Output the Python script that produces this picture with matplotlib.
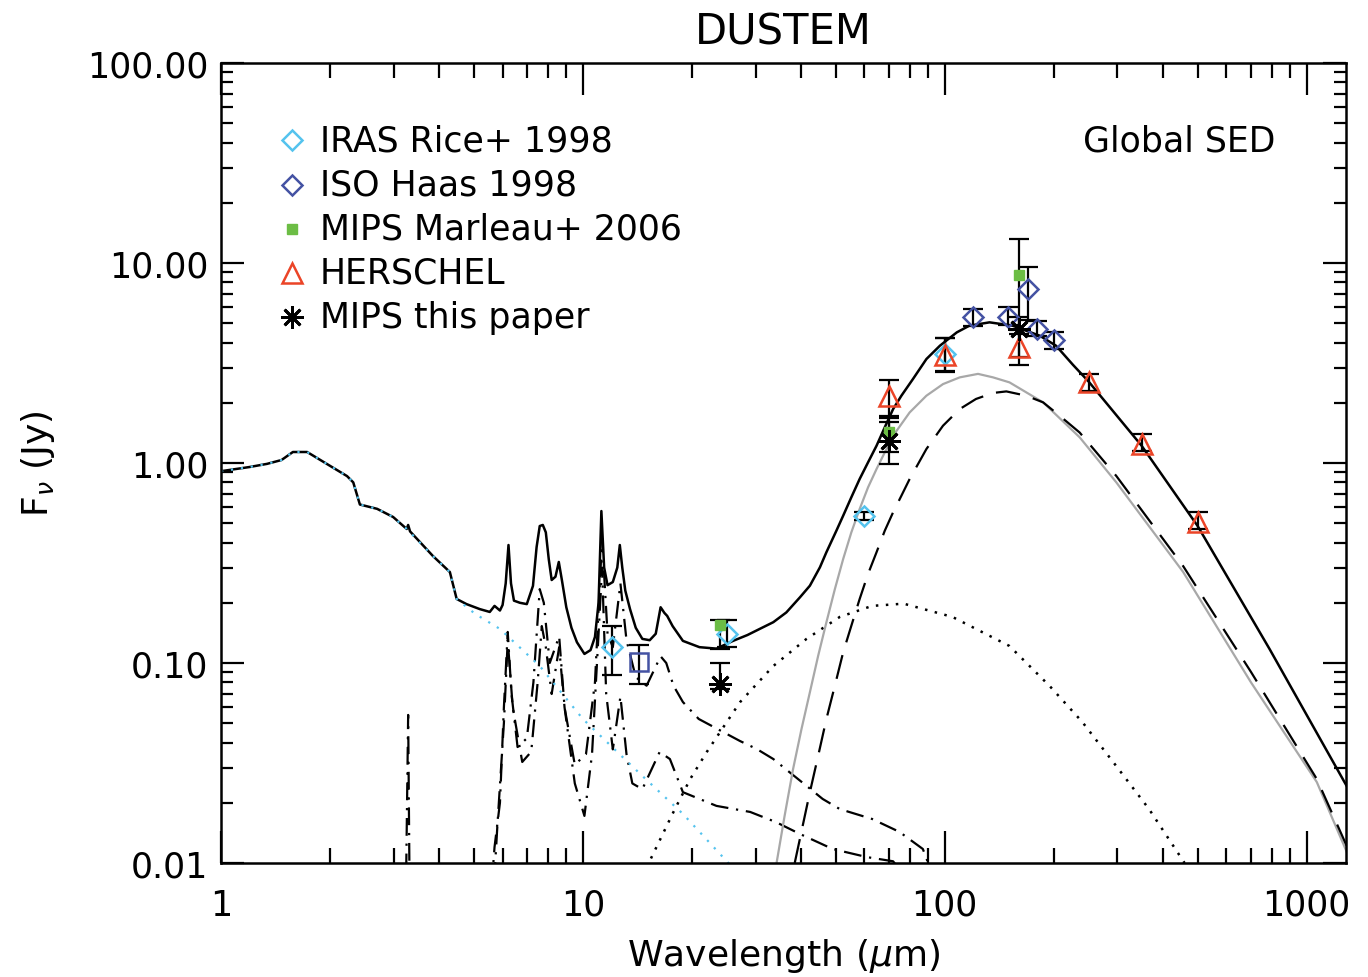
import matplotlib
matplotlib.use('Agg')
import matplotlib.pyplot as plt
from matplotlib.ticker import FixedLocator, LogLocator, FuncFormatter, NullFormatter

plt.rcParams['font.family'] = ['DejaVu Sans']

# ---- model curves (wavelength in micron, flux in Jy) ----
# total model
tot_wl = [1.0, 1.2, 1.34, 1.47, 1.58, 1.73, 1.96, 2.23, 2.32, 2.42, 2.70, 2.99, 3.26, 3.29, 3.33,
          3.85, 4.29, 4.48, 4.77, 5.19, 5.53, 5.7, 5.9, 6.0, 6.12, 6.23, 6.33, 6.45, 6.7, 7.0,
          7.28, 7.45, 7.6, 7.75, 7.9, 8.05, 8.2, 8.4, 8.58, 8.75, 9.0, 9.3, 9.63, 10.1, 10.5,
          10.8, 11.05, 11.25, 11.45, 11.7, 12.1, 12.45, 12.65, 12.85, 13.1, 13.5, 14.0, 14.6,
          15.3, 15.9, 16.4, 16.8, 17.1, 17.7, 18.9, 21.0, 23.4, 26.0, 28.5, 30.8, 33.6, 36.5,
          39.8, 42.4, 45.2, 47.1, 50.2, 52.4, 55.2, 58.2, 61.4, 64.8, 68.3, 72, 75.9, 81.7,
          89, 97, 108, 117, 133, 154, 183, 203, 226, 250, 350, 500, 790, 1290]
tot_f = [0.91, 0.955, 0.99, 1.035, 1.135, 1.135, 0.99, 0.86, 0.80, 0.62, 0.59, 0.537, 0.468, 0.49, 0.455,
         0.343, 0.285, 0.209, 0.197, 0.186, 0.18, 0.193, 0.183, 0.195, 0.25, 0.389, 0.25, 0.205, 0.2, 0.197,
         0.243, 0.38, 0.484, 0.49, 0.45, 0.33, 0.26, 0.27, 0.32, 0.26, 0.19, 0.15, 0.127, 0.111, 0.116,
         0.135, 0.2, 0.575, 0.3, 0.245, 0.254, 0.3, 0.389, 0.3, 0.23, 0.186, 0.15, 0.132,
         0.13, 0.14, 0.19, 0.178, 0.172, 0.153, 0.129, 0.12, 0.118, 0.129, 0.138, 0.148, 0.16, 0.179,
         0.213, 0.2435, 0.301, 0.358, 0.459, 0.545, 0.674, 0.832, 1.008, 1.22, 1.51, 1.86, 2.17, 2.63,
         3.31, 3.86, 4.5, 4.86, 5.05, 4.86, 4.33, 3.86, 3.1, 2.55, 1.22, 0.484, 0.1175, 0.0243]

# stellar component
star_wl = [1.0, 1.2, 1.34, 1.47, 1.58, 1.73, 1.96, 2.23, 2.32, 2.42, 2.70, 2.99, 3.26, 3.85, 4.29,
           4.48, 5.04, 5.9, 7.6, 10.0, 14.4, 18.9, 25.5]
star_f = [0.91, 0.955, 0.99, 1.035, 1.135, 1.135, 0.99, 0.86, 0.80, 0.62, 0.59, 0.537, 0.468, 0.343, 0.285,
          0.209, 0.176, 0.148, 0.0966, 0.0525, 0.0279, 0.0176, 0.0098]

# PAH components (dash-dot)
paha_wl = [5.5, 5.7, 5.9, 6.05, 6.2, 6.35, 6.6, 7.0, 7.3, 7.6, 7.8, 8.1, 8.6, 8.9, 9.5, 10.2, 10.8,
           11.3, 11.7, 12.1, 12.7, 13.2, 14.0, 15.0, 16.4, 17.0, 17.8, 18.9, 20.9, 24.4, 27.2, 30.2,
           33.6, 37.2, 41.5, 46, 51.3, 63, 75, 87, 92]
paha_f = [0.005, 0.012, 0.02, 0.06, 0.143, 0.07, 0.038, 0.042, 0.08, 0.234, 0.2, 0.1, 0.136, 0.06, 0.031,
          0.035, 0.08, 0.42, 0.14, 0.12, 0.25, 0.13, 0.085, 0.077, 0.108, 0.1, 0.077, 0.0638, 0.0525,
          0.0452, 0.0407, 0.0372, 0.0331, 0.0285, 0.0243, 0.0209, 0.0186, 0.0166, 0.0143, 0.01175, 0.009]
pahb_wl = [3.2, 3.29, 3.35, 5.6, 5.8, 6.05, 6.2, 6.4, 6.8, 7.2, 7.5, 7.7, 7.9, 8.2, 8.6, 8.9, 9.5,
           10.1, 10.6, 11.0, 11.3, 11.6, 12.1, 12.7, 13.2, 13.7, 14.6, 16.3, 17.4, 18.9, 23.4, 29,
           34.2, 39.7, 49, 61, 72, 76]
pahb_f = [0.001, 0.055, 0.001, 0.005, 0.015, 0.05, 0.13, 0.06, 0.032, 0.036, 0.08, 0.153, 0.12, 0.07,
          0.12, 0.06, 0.025, 0.0172, 0.035, 0.12, 0.30, 0.07, 0.037, 0.068, 0.035, 0.025, 0.0234,
          0.0359, 0.0331, 0.0226, 0.0193, 0.018, 0.016, 0.014, 0.01175, 0.0107, 0.0102, 0.009]

# very small grains (dotted)
vsg_wl = [15.0, 17.8, 19.8, 22, 27.2, 33.6, 41.5, 51.3, 63, 77, 105, 151, 195, 240, 298, 367, 460]
vsg_f = [0.0095, 0.018, 0.0263, 0.0359, 0.0638, 0.0966, 0.132, 0.17, 0.193, 0.198, 0.17, 0.1216,
         0.0767, 0.0507, 0.0305, 0.0186, 0.0100]

# big grains, grey solid
bg1_wl = [34.3, 36.1, 38.1, 40.2, 42.4, 44.7, 47.1, 49.7, 52.4, 55.2, 58.2, 61.4, 64.8, 68.3, 72, 80,
          89, 98.9, 110, 123.6, 136, 151, 187, 236, 298, 456, 702, 1067, 1290]
bg1_f = [0.01, 0.0172, 0.0295, 0.0468, 0.0714, 0.1088, 0.1598, 0.234, 0.331, 0.45, 0.589, 0.756, 0.933,
         1.131, 1.369, 1.79, 2.17, 2.48, 2.68, 2.79, 2.68, 2.53, 2.01, 1.344, 0.80, 0.285, 0.080,
         0.0254, 0.0114]

# big grains, dashed
bg2_wl = [38.5, 42.4, 44.7, 47.1, 49.7, 52.4, 55.2, 58.2, 61.4, 64.8, 68.3, 72, 75.9, 80, 84.4, 89,
          98.9, 110, 122, 136, 148, 168, 187, 208, 236, 298, 456, 702, 1067, 1290]
bg2_f = [0.01, 0.0226, 0.0344, 0.0525, 0.077, 0.1131, 0.1536, 0.209, 0.279, 0.358, 0.459, 0.567, 0.686,
         0.832, 0.989, 1.175, 1.536, 1.86, 2.09, 2.24, 2.28, 2.17, 2.01, 1.72, 1.42, 0.861, 0.305,
         0.0902, 0.0263, 0.0122]

# ---- photometry ----
iras_wl = [12, 25, 60, 100]
iras_f = [0.12, 0.14, 0.543, 3.5]
iras_lo = [0.087, 0.12, 0.52, 2.9]
iras_hi = [0.153, 0.165, 0.57, 4.2]

iso_wl = [120, 150, 170, 180, 200]
iso_f = [5.37, 5.4, 7.4, 4.68, 4.12]
iso_lo = [4.85, 4.9, 5.2, 4.3, 3.73]
iso_hi = [5.9, 6.0, 9.6, 5.1, 4.5]
isocam_wl = [14.3]
isocam_f = [0.101]
isocam_lo = [0.0786]
isocam_hi = [0.123]

marleau_wl = [24, 70, 160]
marleau_f = [0.155, 1.43, 8.7]
marleau_lo = [0.118, 1.13, 4.4]
marleau_hi = [0.164, 1.67, 13.2]

herschel_wl = [70, 100, 160, 250, 350, 500]
herschel_f = [2.16, 3.45, 3.8, 2.54, 1.24, 0.507]
herschel_lo = [1.72, 2.84, 3.1, 2.3, 1.15, 0.47]
herschel_hi = [2.6, 4.2, 4.6, 2.78, 1.4, 0.57]

mips_wl = [24, 70, 160]
mips_f = [0.0785, 1.29, 4.68]
mips_lo = [0.074, 0.99, 3.4]
mips_hi = [0.1, 1.6, 5.37]

c_iras = '#55c3ee'
c_iso = '#4452a3'
c_marleau = '#6cbd45'
c_herschel = '#eb4427'
c_star = '#55c3ee'
asterisk = (8, 2, 0)

fig = plt.figure(figsize=(13.68, 9.78), dpi=100)
ax = fig.add_axes([221 / 1368, 114 / 978, 1125 / 1368, 800 / 978])

ax.plot(paha_wl, paha_f, color='k', lw=1.6, dashes=(8, 3.5, 1, 3.5))
ax.plot(pahb_wl, pahb_f, color='k', lw=1.6, dashes=(8, 3.5, 1, 3.5))
ax.plot(vsg_wl, vsg_f, color='k', lw=1.8, dashes=(1, 3))
ax.plot(bg1_wl, bg1_f, color='#a8a8a8', lw=1.6)
ax.plot(bg2_wl, bg2_f, color='k', lw=1.6, dashes=(11, 6))
ax.plot(tot_wl, tot_f, color='k', lw=1.8)
ax.plot(star_wl, star_f, color=c_star, lw=1.6, dashes=(1, 3.5))


def errs(f, lo, hi):
    return [[a - b for a, b in zip(f, lo)], [c - a for a, c in zip(f, hi)]]


ebar = dict(fmt='none', ecolor='k', elinewidth=1.6, capsize=7, capthick=1.6, zorder=4)
ax.errorbar(iras_wl, iras_f, yerr=errs(iras_f, iras_lo, iras_hi), **ebar)
ax.errorbar(iso_wl, iso_f, yerr=errs(iso_f, iso_lo, iso_hi), **ebar)
ax.errorbar(isocam_wl, isocam_f, yerr=errs(isocam_f, isocam_lo, isocam_hi), **ebar)
ax.errorbar(marleau_wl, marleau_f, yerr=errs(marleau_f, marleau_lo, marleau_hi), **ebar)
ax.errorbar(herschel_wl, herschel_f, yerr=errs(herschel_f, herschel_lo, herschel_hi), **ebar)
ax.errorbar(mips_wl, mips_f, yerr=errs(mips_f, mips_lo, mips_hi), **ebar)

ax.plot(iras_wl, iras_f, 'D', ls='none', mfc='none', mec=c_iras, mew=1.8, ms=10, zorder=5)
ax.plot(iso_wl, iso_f, 'D', ls='none', mfc='none', mec=c_iso, mew=1.8, ms=10, zorder=5)
ax.plot(isocam_wl, isocam_f, 's', ls='none', mfc='none', mec=c_iso, mew=1.8, ms=13, zorder=5)
ax.plot(marleau_wl, marleau_f, 's', ls='none', color=c_marleau, ms=6.5, zorder=5)
ax.plot(herschel_wl, herschel_f, '^', ls='none', mfc='none', mec=c_herschel, mew=1.8, ms=14, zorder=5)
ax.plot(mips_wl, mips_f, ls='none', marker=asterisk, color='k', mew=2, ms=16, zorder=6)

# legend drawn by hand
leg_y = [0.9035, 0.848, 0.793, 0.738, 0.683]
leg_lab = ['IRAS Rice+ 1998', 'ISO Haas 1998', 'MIPS Marleau+ 2006', 'HERSCHEL', 'MIPS this paper']
ax.plot(0.063, leg_y[0], 'D', mfc='none', mec=c_iras, mew=1.8, ms=10, transform=ax.transAxes)
ax.plot(0.063, leg_y[1], 'D', mfc='none', mec=c_iso, mew=1.8, ms=10, transform=ax.transAxes)
ax.plot(0.063, leg_y[2], 's', color=c_marleau, ms=6.5, transform=ax.transAxes)
ax.plot(0.063, leg_y[3], '^', mfc='none', mec=c_herschel, mew=1.8, ms=14, transform=ax.transAxes)
ax.plot(0.063, leg_y[4], marker=asterisk, color='k', mew=2, ms=16, transform=ax.transAxes)
for yy, lab in zip(leg_y, leg_lab):
    ax.text(0.088, yy, lab, transform=ax.transAxes, fontsize=25, va='center', ha='left')
ax.text(0.937, 0.9035, 'Global SED', transform=ax.transAxes, fontsize=25, va='center', ha='right')

ax.set_xscale('log')
ax.set_yscale('log')
ax.set_xlim(1, 1285)
ax.set_ylim(0.01, 100)

ax.xaxis.set_major_locator(FixedLocator([1, 10, 100, 1000]))
ax.xaxis.set_major_formatter(FuncFormatter(lambda v, p: '%d' % v))
ax.xaxis.set_minor_locator(LogLocator(base=10, subs=range(2, 10), numticks=20))
ax.xaxis.set_minor_formatter(NullFormatter())
ax.yaxis.set_major_locator(FixedLocator([0.01, 0.1, 1, 10, 100]))
ax.yaxis.set_major_formatter(FuncFormatter(lambda v, p: '%.2f' % v))
ax.yaxis.set_minor_locator(LogLocator(base=10, subs=range(2, 10), numticks=20))
ax.yaxis.set_minor_formatter(NullFormatter())

ax.tick_params(which='both', direction='in', top=True, right=True, labelsize=25, width=1.6)
ax.tick_params(axis='x', which='major', length=23, pad=18)
ax.tick_params(axis='x', which='minor', length=11)
ax.tick_params(axis='y', which='major', length=16.5, pad=9)
ax.tick_params(axis='y', which='minor', length=8.5)
for s in ax.spines.values():
    s.set_linewidth(1.8)

ax.set_title('DUSTEM', fontsize=30, pad=14)
ax.set_xlabel(r'Wavelength ($\mu$m)', fontsize=26, labelpad=10)
ax.set_ylabel(r'F$_\nu$ (Jy)', fontsize=26, labelpad=22)

fig.savefig('out.png', dpi=100)
